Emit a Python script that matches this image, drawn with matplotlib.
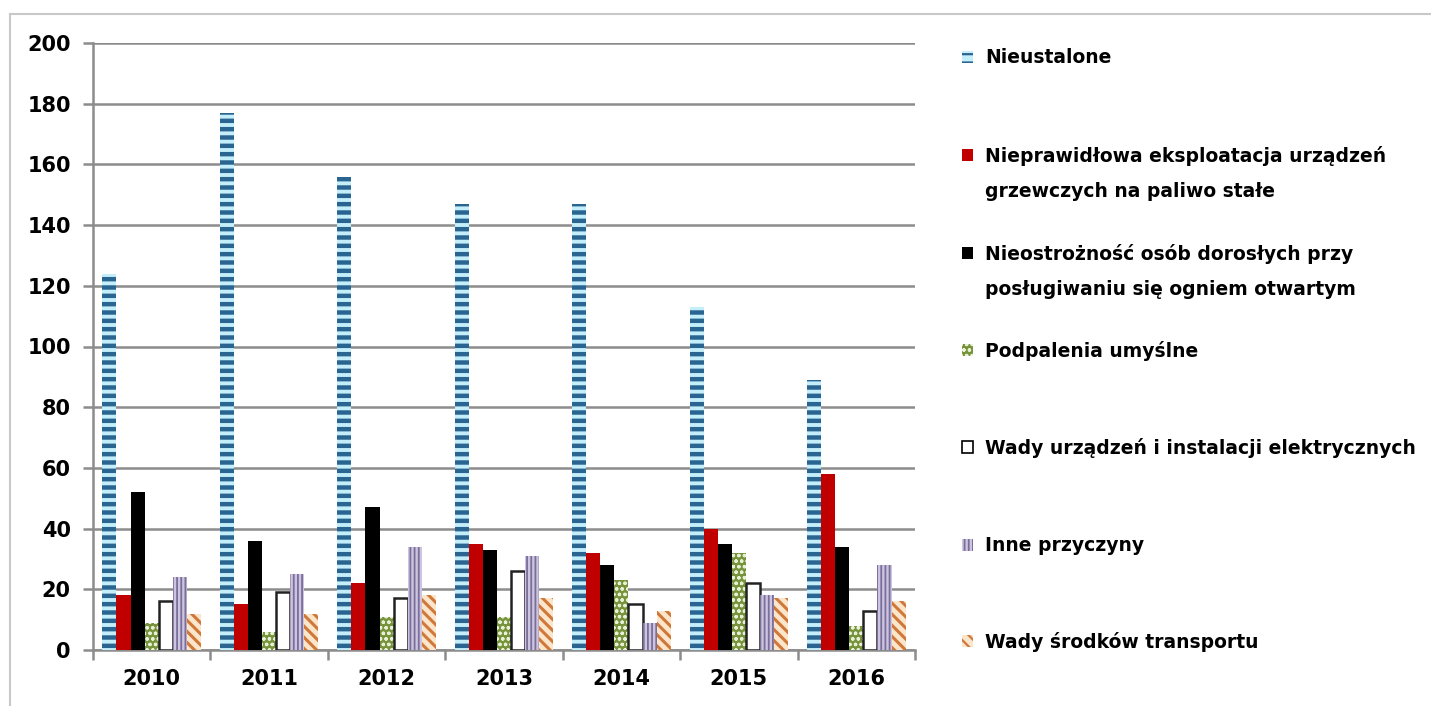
import matplotlib.pyplot as plt
import matplotlib.patches as mpatches
import matplotlib.lines as mlines
import numpy as np

years = ['2010', '2011', '2012', '2013', '2014', '2015', '2016']
labels = [
    'Nieustalone',
    'Nieprawidłowa eksploatacja urządzeń\ngrzewczych na paliwo stałe',
    'Nieostrożność osób dorosłych przy\nposługiwaniu się ogniem otwartym',
    'Podpalenia umyślne',
    'Wady urządzeń i instalacji elektrycznych',
    'Inne przyczyny',
    'Wady środków transportu',
]
nieustalone = [124, 177, 156, 147, 147, 113, 89]
eksploatacja = [18, 15, 22, 35, 32, 40, 58]
nieostroznosc = [52, 36, 47, 33, 28, 35, 34]
podpalenia = [9, 6, 11, 11, 23, 32, 8]
elektryczne = [16, 19, 17, 26, 15, 22, 13]
inne = [24, 25, 34, 31, 9, 18, 28]
transport = [12, 12, 18, 17, 13, 17, 16]
series = [nieustalone, eksploatacja, nieostroznosc, podpalenia, elektryczne, inne, transport]

# face, hatch colour, hatch, hatch linewidth
styles = [
    ('#c4eef9', '#2a6592', '--', 3.2),
    ('#c00000', '#c00000', '', 1.0),
    ('#000000', '#000000', '', 1.0),
    ('#77933c', '#e8f0d8', 'ooo', 0.9),
    ('#ffffff', '#000000', '', 1.0),
    ('#cdc5e0', '#7a6e9a', '||||', 1.3),
    ('#fbe6cc', '#d0783a', '\\\\\\', 2.2),
]

fig = plt.figure(figsize=(14.31, 7.06), dpi=100)
ax = fig.add_axes([93 / 1431, 1 - 650 / 706, (915 - 93) / 1431, (650 - 43) / 706])

# outer frame, only top and left edges show
fig.lines.append(mlines.Line2D([10 / 1431, 1.01], [1 - 14 / 706] * 2, transform=fig.transFigure,
                               color='#c8c8c8', linewidth=1.5))
fig.lines.append(mlines.Line2D([10 / 1431] * 2, [-0.01, 1 - 14 / 706], transform=fig.transFigure,
                               color='#c8c8c8', linewidth=1.5))

x = np.arange(len(years))
w = 0.12
for i, (vals, st) in enumerate(zip(series, styles)):
    face, hcol, hatch, hlw = st
    with plt.rc_context({'hatch.linewidth': hlw}):
        if i == 4:
            ax.bar(x + (i - 3) * w, vals, w, facecolor=face, edgecolor='#222222', linewidth=1.8, zorder=3)
        else:
            ax.bar(x + (i - 3) * w, vals, w, facecolor=face, edgecolor=hcol, hatch=hatch,
                   linewidth=0, zorder=3)

ax.set_ylim(0, 200)
ax.set_xlim(-0.5, len(years) - 0.5)
ax.set_yticks(range(0, 201, 20))
ax.yaxis.grid(True, color='#8c8c8c', linewidth=1.8)
ax.set_axisbelow(True)
for s in ['top', 'right']:
    ax.spines[s].set_visible(False)
for s in ['left', 'bottom']:
    ax.spines[s].set_color('#8c8c8c')
    ax.spines[s].set_linewidth(1.8)
ax.set_xticks(x)
ax.set_xticklabels(years)
ax.set_xticks(np.arange(-0.5, len(years)), minor=True)
ax.tick_params(axis='x', which='major', length=0, pad=14)
ax.tick_params(axis='x', which='minor', length=7, width=1.8, color='#8c8c8c')
ax.tick_params(axis='y', length=7, width=1.8, color='#8c8c8c', pad=9)
for t in ax.get_xticklabels() + ax.get_yticklabels():
    t.set_fontsize(15)
    t.set_fontweight('bold')

# legend drawn by hand so entries sit at fixed spacing
tops = [57, 155, 253, 350, 447, 545, 641]
for i, (lab, st, ty) in enumerate(zip(labels, styles, tops)):
    face, hcol, hatch, hlw = st
    yf = 1 - ty / 706
    with plt.rc_context({'hatch.linewidth': min(hlw, 1.6)}):
        if i == 4:
            p = mpatches.Rectangle((962 / 1431, yf - 6 / 706), 11 / 1431, 12 / 706,
                                   transform=fig.transFigure, facecolor=face,
                                   edgecolor='black', linewidth=1.2)
        else:
            p = mpatches.Rectangle((962 / 1431, yf - 6 / 706), 11 / 1431, 12 / 706,
                                   transform=fig.transFigure, facecolor=face,
                                   edgecolor=hcol, hatch=hatch, linewidth=0)
        fig.patches.append(p)
    fig.text(985 / 1431, yf + 9 / 706, lab, fontsize=13.5, fontweight='bold',
             va='top', ha='left', linespacing=2.05)

fig.savefig('out.png', dpi=100)
